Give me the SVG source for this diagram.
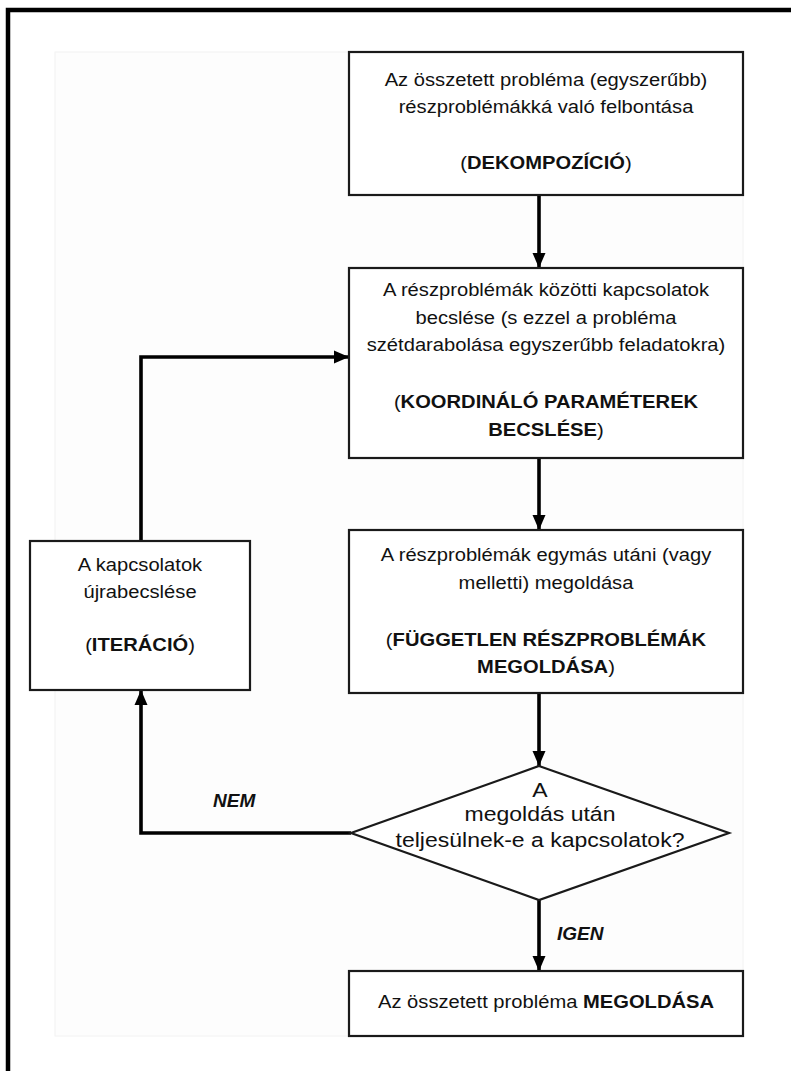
<svg xmlns="http://www.w3.org/2000/svg" width="791" height="1071" viewBox="0 0 791 1071">
  <style>
    .box { fill: #ffffff; stroke: #1a1a1a; stroke-width: 2.2; }
    .wire { fill: none; stroke: #000000; stroke-width: 3.6; stroke-linejoin: miter; }
    .t { font-family: "Liberation Sans", Arial, sans-serif; font-size: 18.5px; fill: #111111; text-anchor: middle; }
    .q { font-size: 19.5px; }
    .b { font-weight: bold; }
    .lbl { font-family: "Liberation Sans", Arial, sans-serif; font-size: 19px; font-weight: bold; font-style: italic; fill: #111111; }
  </style>
  <defs>
    <marker id="arrow" markerUnits="userSpaceOnUse" markerWidth="16" markerHeight="16" viewBox="0 0 16 16" refX="15" refY="8" orient="auto">
      <path d="M0,1.5 L15,8 L0,14.5 Z" fill="#000000"/>
    </marker>
  </defs>

  <!-- page -->
  <rect x="0" y="0" width="791" height="1071" fill="#ffffff"/>
  <rect x="55" y="52" width="688" height="984" fill="#fdfdfd" stroke="#f2f2f2" stroke-width="1"/>
  <!-- outer frame (top and left edges) -->
  <path d="M8,1071 L8,10 L791,10" fill="none" stroke="#000000" stroke-width="4.5"/>

  <!-- connectors -->
  <g id="connectors">
    <line class="wire" x1="539" y1="195" x2="539" y2="268" marker-end="url(#arrow)"/>
    <line class="wire" x1="539" y1="458" x2="539" y2="530" marker-end="url(#arrow)"/>
    <line class="wire" x1="539" y1="693" x2="539" y2="766" marker-end="url(#arrow)"/>
    <line class="wire" x1="539" y1="900" x2="539" y2="971" marker-end="url(#arrow)"/>
    <polyline class="wire" points="351,833 141,833 141,690" marker-end="url(#arrow)"/>
    <polyline class="wire" points="141,541 141,357 349,357" marker-end="url(#arrow)"/>
    <text class="lbl" x="213" y="807">NEM</text>
    <text class="lbl" x="557" y="940">IGEN</text>
  </g>

  <!-- decomposition -->
  <g id="node-decomposition">
    <rect class="box" x="349" y="52" width="394" height="143"/>
    <g transform="translate(546 0) scale(1.09 1)">
      <text class="t" x="0" y="86">Az összetett probléma (egyszerűbb)</text>
      <text class="t" x="0" y="113">részproblémákká való felbontása</text>
      <text class="t" x="0" y="169">(<tspan class="b">DEKOMPOZÍCIÓ</tspan>)</text>
    </g>
  </g>

  <!-- coordinating parameters -->
  <g id="node-coordination">
    <rect class="box" x="349" y="268" width="394" height="190"/>
    <g transform="translate(546 0) scale(1.09 1)">
      <text class="t" x="0" y="296">A részproblémák közötti kapcsolatok</text>
      <text class="t" x="0" y="324">becslése (s ezzel a probléma</text>
      <text class="t" x="0" y="351">szétdarabolása egyszerűbb feladatokra)</text>
      <text class="t" x="0" y="408">(<tspan class="b">KOORDINÁLÓ PARAMÉTEREK</tspan></text>
      <text class="t" x="0" y="436"><tspan class="b">BECSLÉSE</tspan>)</text>
    </g>
  </g>

  <!-- independent subproblems -->
  <g id="node-subproblems">
    <rect class="box" x="349" y="530" width="394" height="163"/>
    <g transform="translate(546 0) scale(1.09 1)">
      <text class="t" x="0" y="561">A részproblémák egymás utáni (vagy</text>
      <text class="t" x="0" y="589">melletti) megoldása</text>
      <text class="t" x="0" y="646">(<tspan class="b">FÜGGETLEN RÉSZPROBLÉMÁK</tspan></text>
      <text class="t" x="0" y="673"><tspan class="b">MEGOLDÁSA</tspan>)</text>
    </g>
  </g>

  <!-- iteration -->
  <g id="node-iteration">
    <rect class="box" x="30" y="541" width="220" height="149"/>
    <g transform="translate(140 0) scale(1.09 1)">
      <text class="t" x="0" y="571">A kapcsolatok</text>
      <text class="t" x="0" y="598">újrabecslése</text>
      <text class="t" x="0" y="651">(<tspan class="b">ITERÁCIÓ</tspan>)</text>
    </g>
  </g>

  <!-- decision -->
  <g id="node-decision">
    <polygon class="box" points="539,766 729,833 539,900 351,833" stroke-width="2.4"/>
    <g transform="translate(540 0) scale(1.18 1)">
      <text class="t q" x="0" y="797">A</text>
      <text class="t q" x="0" y="821">megoldás után</text>
      <text class="t q" x="0" y="847">teljesülnek-e a kapcsolatok?</text>
    </g>
  </g>

  <!-- solution -->
  <g id="node-solution">
    <rect class="box" x="349" y="971" width="394" height="65"/>
    <g transform="translate(546 0) scale(1.09 1)">
      <text class="t" x="0" y="1008">Az összetett probléma <tspan class="b">MEGOLDÁSA</tspan></text>
    </g>
  </g>
</svg>
